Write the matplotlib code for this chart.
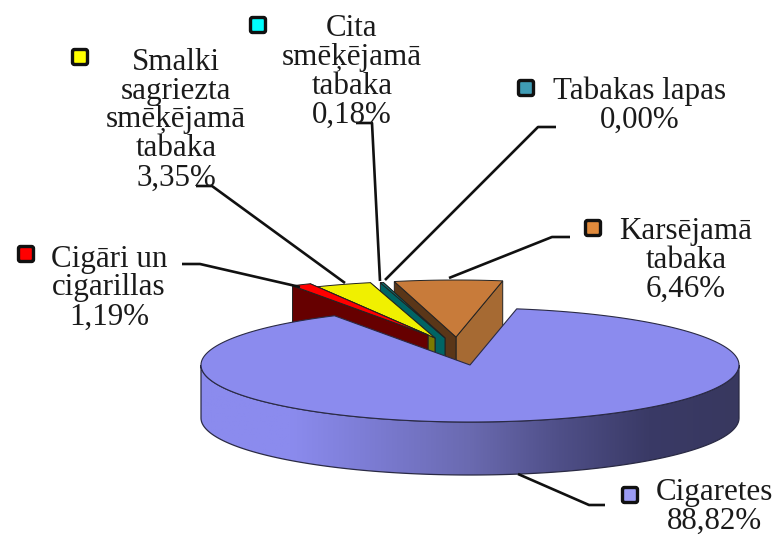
import numpy as np
import matplotlib
matplotlib.use('Agg')
import matplotlib.pyplot as plt
from matplotlib.patches import Polygon, FancyBboxPatch
from matplotlib.colors import LinearSegmentedColormap

# dati
nosaukumi = ['Cigaretes', 'Cigāri un\ncigarillas', 'Smalki\nsagriezta\nsmēķējamā\ntabaka',
             'Cita\nsmēķējamā\ntabaka', 'Tabakas lapas', 'Karsējamā\ntabaka']
vertibas = [88.82, 1.19, 3.35, 0.18, 0.00, 6.46]
etiketes = ['88,82%', '1,19%', '3,35%', '0,18%', '0,00%', '6,46%']
krasas_virsa = ['#8B8BEE', '#FF0000', '#F0F000', '#087C7C', '#3F9CB5', '#C87B3A']
krasas_kreisa = ['#8B8BEE', '#660000', '#7A7A00', '#006464', '#1F5F70', '#5A3618']
krasas_laba = ['#8B8BEE', '#660000', '#7A7A00', '#006464', '#1F5F70', '#A66A33']
krasas_leg = ['#9C9CF5', '#FF0000', '#FFFF00', '#00FFFF', '#3F9CB5', '#E08A3C']

# izkartojums (pikseli)
cx, cy, rx, ry, dziļums = 470, 365, 269, 57, 53
sakuma_lenkis = 10.0
nobide = [(0, 0), (-42, -30), (-35, -27), (-25, -27), (-20, -27), (-14, -28)]
teksta_xy = [(714, 507), (109, 288), (176, 120), (352, 72), (640, 106), (686, 260)]
atslegas_xy = [(630, 495), (26, 254), (80, 57), (258, 25), (526, 88), (593, 228)]
liniju_xy = [[(518, 474), (589, 505), (605, 505)],
             [(182, 264), (200, 264), (300, 287)],
             [(196, 186), (212, 186), (345, 283)],
             [(356, 123), (372, 123), (380, 281)],
             [(556, 127), (538, 127), (385, 280)],
             [(570, 237), (552, 237), (449, 278)]]

plt.rcParams['font.family'] = ['Liberation Serif', 'DejaVu Serif']

fig = plt.figure(figsize=(7.75, 5.37), dpi=100)
ax = fig.add_axes([0, 0, 1, 1])
ax.set_xlim(0, 775)
ax.set_ylim(537, 0)
ax.axis('off')


def punkts(lenkis, x0=cx, y0=cy):
    t = np.radians(lenkis)
    return x0 + rx * np.sin(t), y0 - ry * np.cos(t)


# lenki pulksteņa rādītāja virzienā, sākot no augšas
robezas = sakuma_lenkis + np.cumsum([0] + [v * 3.6 for v in vertibas])

# izvirzītie sektori, no labās uz kreiso
for i in range(5, 0, -1):
    if vertibas[i] == 0:
        continue
    a, b = robezas[i], robezas[i + 1]
    x0, y0 = cx + nobide[i][0], cy + nobide[i][1]
    xa, ya = punkts(a, x0, y0)
    xb, yb = punkts(b, x0, y0)
    ax.add_patch(Polygon([(x0, y0), (xb, yb), (xb, yb + dziļums), (x0, y0 + dziļums)],
                         fc=krasas_laba[i], ec='#222222', lw=0.7, zorder=2))
    ax.add_patch(Polygon([(x0, y0), (xa, ya), (xa, ya + dziļums), (x0, y0 + dziļums)],
                         fc=krasas_kreisa[i], ec='#222222', lw=0.7, zorder=2))
    loks = np.linspace(a, b, 20)
    xs, ys = punkts(loks, x0, y0)
    ax.add_patch(Polygon(np.r_[[(x0, y0)], np.c_[xs, ys]], fc=krasas_virsa[i],
                         ec='#222222', lw=0.7, zorder=2))

# galvenā sektora sānu siena ar krāsu pāreju
leja = np.linspace(90, 270, 200)
xs, ys = punkts(leja)
siena = Polygon(np.r_[np.c_[xs, ys], np.c_[xs[::-1], ys[::-1] + dziļums]],
                fc='none', ec='#2a2a44', lw=0.9, zorder=3.1)
ax.add_patch(siena)
cm = LinearSegmentedColormap.from_list('siena', ['#8B8BEE', '#8B8BEE', '#7A7AD0', '#6A6AB0', '#4F4F88', '#3A3A66', '#38385F'])
att = ax.imshow(np.linspace(0, 1, 256)[None, :], extent=(cx - rx, cx + rx, cy + ry + dziļums, cy - ry),
                cmap=cm, aspect='auto', zorder=3)
att.set_clip_path(siena)
ax.set_xlim(0, 775)
ax.set_ylim(537, 0)

# galvenā sektora virsa
loks = np.linspace(robezas[0], robezas[1], 400)
xs, ys = punkts(loks)
ax.add_patch(Polygon(np.r_[[(cx, cy)], np.c_[xs, ys]], fc=krasas_virsa[0],
                     ec='#2a2a44', lw=0.8, zorder=4))

# līnijas, apzīmējumi un teksti
for i in range(6):
    lx, ly = zip(*liniju_xy[i])
    ax.plot(lx, ly, color='#111111', lw=1.9, zorder=5, solid_capstyle='butt')
    kx, ky = atslegas_xy[i]
    ax.add_patch(FancyBboxPatch((kx - 6, ky - 6), 12, 12, boxstyle='round,pad=1.5,rounding_size=2',
                                fc=krasas_leg[i], ec='#111111', lw=2.4, zorder=6))
    ax.text(teksta_xy[i][0], teksta_xy[i][1], nosaukumi[i] + '\n' + etiketes[i], ha='center', va='center',
            fontsize=22.3, linespacing=1.0, color='#1a1a1a', zorder=7)

fig.savefig('out.png', dpi=100)
